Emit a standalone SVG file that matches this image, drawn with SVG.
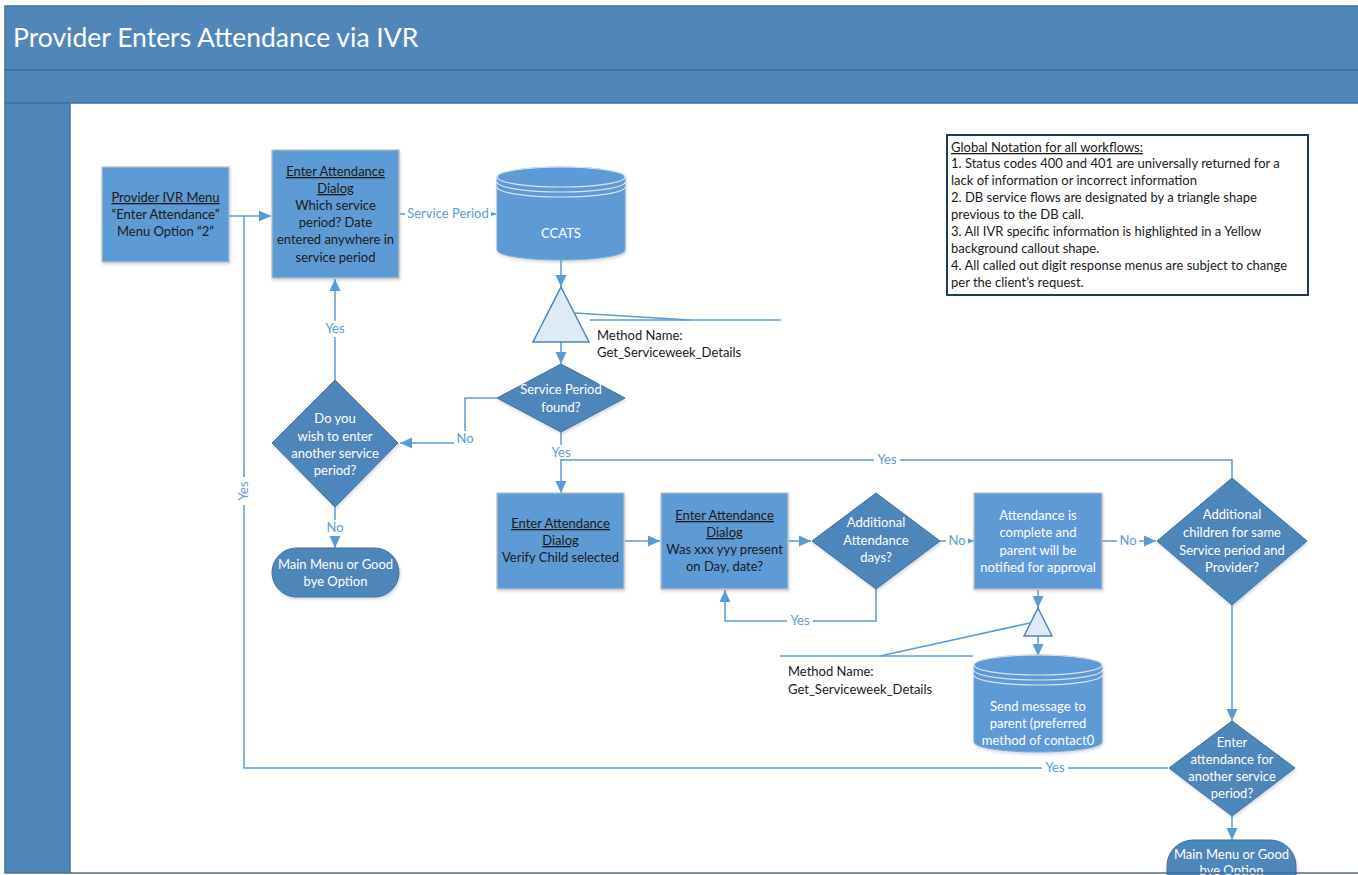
<svg xmlns="http://www.w3.org/2000/svg" width="1358" height="875" viewBox="0 0 1358 875">
  <style>
    .band { fill: #4F87BB; stroke: #41719C; stroke-width: 1.5; }
    .box { fill: #5B9BD5; stroke: #BFBFBF; stroke-width: 1.2; filter: url(#shadow); }
    .dec { fill: #4E86BA; stroke: #41719C; stroke-width: 1; filter: url(#shadow); }
    .db { fill: #5B9BD5; stroke: #7FA8D0; stroke-width: 1; filter: url(#shadow); }
    .ring { fill: none; stroke: #D9E2EC; stroke-width: 1.2; }
    .tri { fill: #DEEBF7; stroke: #4F87BB; stroke-width: 1.5; }
    .t { font-family: Lato, "Liberation Sans", sans-serif; font-size: 13px; text-anchor: middle; }
    .dark { fill: #1A1A1A; }
    .light { fill: #FFFFFF; }
    .u { text-decoration: underline; }
    .conn { fill: none; stroke: #5B9BD5; stroke-width: 1.5; }
    .lbl { font-family: Lato, "Liberation Sans", sans-serif; font-size: 13px; fill: #5B9BD5; text-anchor: middle; }
    .lblbg { fill: #FFFFFF; }
    .note { font-family: Lato, "Liberation Sans", sans-serif; font-size: 13px; fill: #1A1A1A; }
  </style>
  <defs>
    <marker id="arrow" markerUnits="userSpaceOnUse" markerWidth="14" markerHeight="14" viewBox="0 0 14 14" refX="13" refY="7" orient="auto">
      <path d="M1,1.5 L13,7 L1,12.5 Z" fill="#5B9BD5"/>
    </marker>
    <marker id="arrowSm" markerUnits="userSpaceOnUse" markerWidth="8" markerHeight="8" viewBox="0 0 8 8" refX="7.5" refY="4" orient="auto">
      <path d="M0.5,1 L7.5,4 L0.5,7 Z" fill="#5B9BD5"/>
    </marker>
    <filter id="shadow" x="-10%" y="-10%" width="130%" height="130%">
      <feDropShadow dx="1" dy="2" stdDeviation="1.5" flood-color="#7F8FA6" flood-opacity="0.35"/>
    </filter>
  </defs>

  <!-- page background -->
  <rect x="0" y="0" width="1358" height="875" fill="#FFFFFF"/>

  <!-- swimlane frame -->
  <g id="frame">
    <rect class="band" x="5" y="6" width="1360" height="64"/>
    <rect class="band" x="5" y="70" width="1360" height="33"/>
    <rect class="band" x="5" y="103" width="65" height="770"/>
    <text x="13" y="47" font-family="Lato, 'Liberation Sans', sans-serif" font-size="26.5" fill="#FFFFFF">Provider Enters Attendance via IVR</text>
  </g>

  <!-- connectors -->
  <g id="connectors">
    <polyline class="conn" points="229,216 271,216" marker-end="url(#arrow)"/>
    <polyline class="conn" points="400,214 496,214" marker-end="url(#arrowSm)"/>
    <polyline class="conn" points="561,260 561,287" marker-end="url(#arrow)"/>
    <polyline class="conn" points="561,342 561,364" marker-end="url(#arrow)"/>
    <polyline class="conn" points="497,398 465,398 465,443 400,443" marker-end="url(#arrow)"/>
    <polyline class="conn" points="335,380 335,279" marker-end="url(#arrow)"/>
    <polyline class="conn" points="335,507 335,548" marker-end="url(#arrow)"/>
    <polyline class="conn" points="561,432 561,493" marker-end="url(#arrow)"/>
    <polyline class="conn" points="1232,478 1232,460 561,460"/>
    <polyline class="conn" points="625,541 660,541" marker-end="url(#arrow)"/>
    <polyline class="conn" points="788,541 811,541" marker-end="url(#arrow)"/>
    <polyline class="conn" points="876,589 876,621 725,621 725,590" marker-end="url(#arrow)"/>
    <polyline class="conn" points="940,541 974,541" marker-end="url(#arrowSm)"/>
    <polyline class="conn" points="1102,541 1156,541" marker-end="url(#arrow)"/>
    <polyline class="conn" points="1038,590 1038,608" marker-end="url(#arrow)"/>
    <polyline class="conn" points="1038,636 1038,656" marker-end="url(#arrow)"/>
    <polyline class="conn" points="1232,605 1232,721" marker-end="url(#arrow)"/>
    <polyline class="conn" points="1168,768 244,768 244,216"/>
    <polyline class="conn" points="1232,816 1232,840" marker-end="url(#arrow)"/>

    <!-- callout leaders for the DB calls -->
    <polyline class="conn" points="575,313 690,320"/>
    <line class="conn" x1="590" y1="320" x2="781" y2="320"/>
    <polyline class="conn" points="1030,623 880,656"/>
    <line class="conn" x1="780" y1="656" x2="973" y2="656"/>

    <!-- connector labels -->
    <rect class="lblbg" x="405" y="206" width="86" height="16"/>
    <text class="lbl" x="448" y="218">Service Period</text>
    <rect class="lblbg" x="454" y="431" width="22" height="16"/>
    <text class="lbl" x="465" y="443">No</text>
    <rect class="lblbg" x="322" y="321" width="26" height="16"/>
    <text class="lbl" x="335" y="333">Yes</text>
    <rect class="lblbg" x="324" y="520" width="22" height="16"/>
    <text class="lbl" x="335" y="532">No</text>
    <rect class="lblbg" x="548" y="445" width="26" height="14"/>
    <text class="lbl" x="561" y="457">Yes</text>
    <rect class="lblbg" x="874" y="452" width="26" height="16"/>
    <text class="lbl" x="887" y="464">Yes</text>
    <rect class="lblbg" x="787" y="613" width="26" height="16"/>
    <text class="lbl" x="800" y="625">Yes</text>
    <rect class="lblbg" x="946" y="533" width="22" height="16"/>
    <text class="lbl" x="957" y="545">No</text>
    <rect class="lblbg" x="1117" y="533" width="22" height="16"/>
    <text class="lbl" x="1128" y="545">No</text>
    <rect class="lblbg" x="1042" y="760" width="26" height="16"/>
    <text class="lbl" x="1055" y="772">Yes</text>
    <rect class="lblbg" x="236" y="477" width="16" height="28"/>
    <text class="lbl" x="0" y="0" transform="translate(248,491) rotate(-90)">Yes</text>
  </g>

  <!-- nodes -->
  <g id="provider-menu">
    <rect class="box" x="102" y="167" width="127" height="95"/>
    <text class="t dark" x="165.5" y="202"><tspan class="u">Provider IVR Menu</tspan></text>
    <text class="t dark" x="165.5" y="219">“Enter Attendance”</text>
    <text class="t dark" x="165.5" y="236">Menu Option “2”</text>
  </g>

  <g id="dialog-service-period">
    <rect class="box" x="272" y="150" width="127" height="128"/>
    <text class="t dark" x="335.5" y="176"><tspan class="u">Enter Attendance</tspan></text>
    <text class="t dark" x="335.5" y="193"><tspan class="u">Dialog</tspan></text>
    <text class="t dark" x="335.5" y="210">Which service</text>
    <text class="t dark" x="335.5" y="227">period? Date</text>
    <text class="t dark" x="335.5" y="244">entered anywhere in</text>
    <text class="t dark" x="335.5" y="262">service period</text>
  </g>

  <g id="ccats">
    <path class="db" d="M497,177 A64,10 0 0 1 625,177 L625,250 A64,10 0 0 1 497,250 Z"/>
    <ellipse class="ring" cx="561" cy="177" rx="64" ry="10"/>
    <path class="ring" d="M497,182 A64,10 0 0 0 625,182"/>
    <path class="ring" d="M497,187 A64,10 0 0 0 625,187"/>
    <text class="t light" x="561" y="238">CCATS</text>
  </g>

  <g id="db-call-1">
    <polygon class="tri" points="561,287 589,342 533,342"/>
    <text class="note" x="597" y="340">Method Name:</text>
    <text class="note" x="597" y="357">Get_Serviceweek_Details</text>
  </g>

  <g id="service-period-found">
    <polygon class="dec" points="561,364 625,398 561,432 497,398"/>
    <text class="t light" x="561" y="394">Service Period</text>
    <text class="t light" x="561" y="412">found?</text>
  </g>

  <g id="another-service-period">
    <polygon class="dec" points="335,380 398,443 335,507 272,443"/>
    <text class="t light" x="335" y="423">Do you</text>
    <text class="t light" x="335" y="441">wish to enter</text>
    <text class="t light" x="335" y="458">another service</text>
    <text class="t light" x="335" y="475">period?</text>
  </g>

  <g id="main-menu-1">
    <rect class="dec" x="272" y="548" width="127" height="49" rx="24.5" ry="24.5"/>
    <text class="t light" x="335.5" y="569">Main Menu or Good</text>
    <text class="t light" x="335.5" y="586">bye Option</text>
  </g>

  <g id="dialog-verify-child">
    <rect class="box" x="497" y="493" width="127" height="96"/>
    <text class="t dark" x="560.5" y="528"><tspan class="u">Enter Attendance</tspan></text>
    <text class="t dark" x="560.5" y="545"><tspan class="u">Dialog</tspan></text>
    <text class="t dark" x="560.5" y="562">Verify Child selected</text>
  </g>

  <g id="dialog-present">
    <rect class="box" x="661" y="493" width="127" height="96"/>
    <text class="t dark" x="724.5" y="520"><tspan class="u">Enter Attendance</tspan></text>
    <text class="t dark" x="724.5" y="537"><tspan class="u">Dialog</tspan></text>
    <text class="t dark" x="724.5" y="554">Was xxx yyy present</text>
    <text class="t dark" x="724.5" y="571">on Day, date?</text>
  </g>

  <g id="additional-days">
    <polygon class="dec" points="876,493 940,541 876,589 812,541"/>
    <text class="t light" x="876" y="527">Additional</text>
    <text class="t light" x="876" y="545">Attendance</text>
    <text class="t light" x="876" y="562">days?</text>
  </g>

  <g id="attendance-complete">
    <rect class="box" x="974" y="493" width="128" height="96"/>
    <text class="t light" x="1038" y="520">Attendance is</text>
    <text class="t light" x="1038" y="537">complete and</text>
    <text class="t light" x="1038" y="555">parent will be</text>
    <text class="t light" x="1038" y="572">notified for approval</text>
  </g>

  <g id="db-call-2">
    <polygon class="tri" points="1038,608 1052,636 1024,636"/>
    <text class="note" x="788" y="676">Method Name:</text>
    <text class="note" x="788" y="694">Get_Serviceweek_Details</text>
  </g>

  <g id="send-message">
    <path class="db" d="M974,665 A64,10 0 0 1 1102,665 L1102,742 A64,10 0 0 1 974,742 Z"/>
    <ellipse class="ring" cx="1038" cy="665" rx="64" ry="10"/>
    <path class="ring" d="M974,670 A64,10 0 0 0 1102,670"/>
    <path class="ring" d="M974,675 A64,10 0 0 0 1102,675"/>
    <text class="t light" x="1038" y="711">Send message to</text>
    <text class="t light" x="1038" y="728">parent (preferred</text>
    <text class="t light" x="1038" y="745">method of contact0</text>
  </g>

  <g id="additional-children">
    <polygon class="dec" points="1232,478 1307,541 1232,605 1157,541"/>
    <text class="t light" x="1232" y="519">Additional</text>
    <text class="t light" x="1232" y="537">children for same</text>
    <text class="t light" x="1232" y="555">Service period and</text>
    <text class="t light" x="1232" y="572">Provider?</text>
  </g>

  <g id="another-period-end">
    <polygon class="dec" points="1232,721 1295,768 1232,816 1169,768"/>
    <text class="t light" x="1232" y="747">Enter</text>
    <text class="t light" x="1232" y="764">attendance for</text>
    <text class="t light" x="1232" y="781">another service</text>
    <text class="t light" x="1232" y="798">period?</text>
  </g>

  <g id="main-menu-2">
    <rect class="dec" x="1167" y="840" width="129" height="60" rx="26" ry="26"/>
    <text class="t light" x="1231.5" y="859">Main Menu or Good</text>
    <text class="t light" x="1231.5" y="875">bye Option</text>
  </g>

  <g id="global-notation">
    <rect x="947" y="135" width="361" height="160" fill="#FFFFFF" stroke="#1F3864" stroke-width="2"/>
    <text class="note" x="951" y="152"><tspan text-decoration="underline">Global Notation for all workflows:</tspan></text>
    <text class="note" x="951" y="168">1. Status codes 400 and 401 are universally returned for a</text>
    <text class="note" x="951" y="185">lack of information or incorrect information</text>
    <text class="note" x="951" y="202">2. DB service flows are designated by a triangle shape</text>
    <text class="note" x="951" y="219">previous to the DB call.</text>
    <text class="note" x="951" y="236">3. All IVR specific information is highlighted in a Yellow</text>
    <text class="note" x="951" y="253">background callout shape.</text>
    <text class="note" x="951" y="270">4. All called out digit response menus are subject to change</text>
    <text class="note" x="951" y="287">per the client’s request.</text>
  </g>

  <!-- page border, drawn last so it runs across the cut-off terminal -->
  <line x1="70" y1="873" x2="1358" y2="873" stroke="#41719C" stroke-width="1.5"/>
</svg>
